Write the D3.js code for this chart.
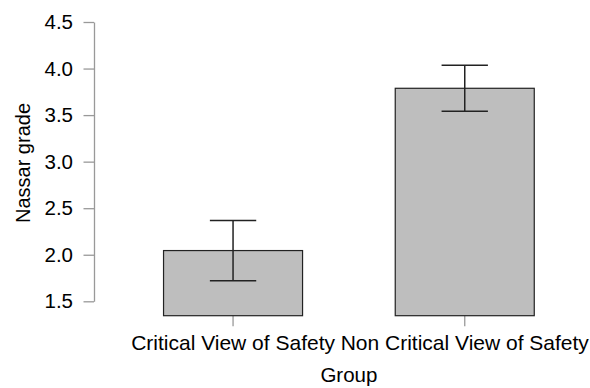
<!DOCTYPE html>
<html>
<head>
<meta charset="utf-8">
<script src="https://cdn.jsdelivr.net/npm/d3@7"></script>
<style>
  html, body { margin: 0; padding: 0; background: #fff; }
  svg { display: block; }
  text { font-family: "Liberation Sans", Arial, sans-serif; fill: #000; }
</style>
</head>
<body>
<svg id="chart" width="590" height="388"></svg>
<script>
// Mean Nassar grade per group, with error bar bounds
const groups = ["Critical View of Safety", "Non Critical View of Safety"];
const means = [2.045, 3.788];
const lower = [1.721, 3.541];
const upper = [2.367, 4.035];
const yTicks = [1.5, 2.0, 2.5, 3.0, 3.5, 4.0, 4.5];

const svg = d3.select("#chart");
const plotBottom = 315.7;
const fontFamily = "'Liberation Sans', Arial, sans-serif";

const y = d3.scaleLinear().domain([1.5, 4.5]).range([301.3, 22]);
const x = d3.scaleBand().domain(groups).range([117.2, 580.6])
  .paddingInner(0.4).paddingOuter(0.2);

// y axis
const yAxis = svg.append("g").attr("transform", "translate(94,0)")
  .call(d3.axisLeft(y).tickValues(yTicks).tickFormat(d3.format(".1f"))
    .tickSize(10.5).tickSizeOuter(0).tickPadding(10.5));
yAxis.select(".domain").attr("stroke", "#999").attr("stroke-width", 1.3);
yAxis.selectAll(".tick line").attr("stroke", "#999").attr("stroke-width", 1.3);
yAxis.selectAll(".tick text").attr("font-size", 20.5).attr("fill", "#000")
  .style("font-family", fontFamily);

// x axis (ticks only, no baseline)
const xAxis = svg.append("g").attr("transform", `translate(0,${plotBottom})`)
  .call(d3.axisBottom(x).tickSize(10.5).tickSizeOuter(0));
xAxis.select(".domain").remove();
xAxis.selectAll(".tick line").attr("stroke", "#999").attr("stroke-width", 1.3);
xAxis.selectAll(".tick text").attr("font-size", 21).attr("fill", "#000")
  .attr("y", 34).attr("dy", 0)
  .style("font-family", fontFamily);

// bars
svg.append("g").selectAll("rect").data(groups).join("rect")
  .attr("x", d => x(d))
  .attr("y", (d, i) => y(means[i]))
  .attr("width", x.bandwidth())
  .attr("height", (d, i) => plotBottom - y(means[i]))
  .attr("fill", "#bebebe")
  .attr("stroke", "#222")
  .attr("stroke-width", 1.2);

// error bars
const capHalf = x.bandwidth() / 6;
const eb = svg.append("g").attr("stroke", "#222").attr("stroke-width", 1.5).attr("fill", "none");
groups.forEach((g, i) => {
  const cx = x(g) + x.bandwidth() / 2;
  eb.append("line").attr("x1", cx).attr("x2", cx).attr("y1", y(upper[i])).attr("y2", y(lower[i]));
  eb.append("line").attr("x1", cx - capHalf).attr("x2", cx + capHalf).attr("y1", y(upper[i])).attr("y2", y(upper[i]));
  eb.append("line").attr("x1", cx - capHalf).attr("x2", cx + capHalf).attr("y1", y(lower[i])).attr("y2", y(lower[i]));
});

// axis titles
svg.append("text").attr("x", (117.2 + 580.6) / 2).attr("y", 381.5)
  .attr("text-anchor", "middle").attr("font-size", 20.5).text("Group");
svg.append("text").attr("transform", "translate(30,163) rotate(-90)")
  .attr("text-anchor", "middle").attr("font-size", 20).text("Nassar grade");
</script>
</body>
</html>
